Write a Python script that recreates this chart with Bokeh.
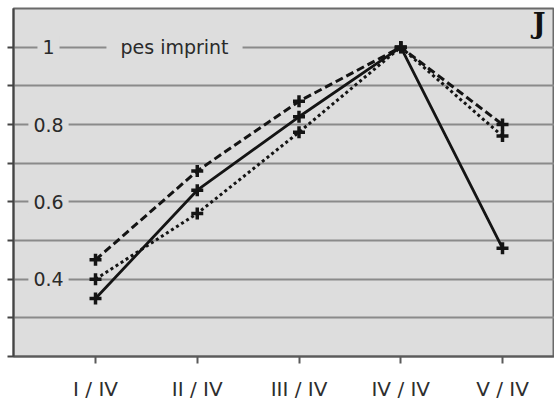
import numpy as np
from bokeh.plotting import figure
from bokeh.models import (Range1d, FixedTicker, Label)
from bokeh.embed import file_html
from bokeh.resources import INLINE

# ---- data ----
categories = ["I / IV", "II / IV", "III / IV", "IV / IV", "V / IV"]
series_dashed = [0.45, 0.68, 0.86, 1.00, 0.80]
series_solid = [0.35, 0.63, 0.82, 1.00, 0.48]
series_dotted = [0.40, 0.57, 0.78, 1.00, 0.77]
y_tick_values = [0.2, 0.3, 0.4, 0.5, 0.6, 0.7, 0.8, 0.9, 1.0]
y_label_values = [0.4, 0.6, 0.8, 1.0]
y_label_texts = ["0.4", "0.6", "0.8", "1"]
annotation_text = "pes imprint"
panel_letter = "J"

xs = list(range(1, len(categories) + 1))

p = figure(width=554, height=403, output_backend="svg", toolbar_location=None,
           x_range=Range1d(0.194, 5.511), y_range=Range1d(0.2, 1.1),
           min_border_left=13, min_border_right=0, min_border_top=8, min_border_bottom=46)

p.background_fill_color = "#dddddd"
p.border_fill_color = "white"
p.outline_line_color = "#6a6a6a"
p.outline_line_width = 2

# x axis
p.xaxis.ticker = FixedTicker(ticks=xs)
p.xaxis.major_label_overrides = {x: c for x, c in zip(xs, categories)}
p.xaxis.major_label_text_font = "DejaVu Sans"
p.xaxis.major_label_text_font_size = "20px"
p.xaxis.major_label_text_color = "#2e2e2e"
p.xaxis.major_label_standoff = 13
p.xaxis.axis_line_color = "#5a5a5a"
p.xaxis.axis_line_width = 2
p.xaxis.major_tick_line_color = "#5a5a5a"
p.xaxis.major_tick_line_width = 2
p.xaxis.major_tick_out = 7
p.xaxis.major_tick_in = 0
p.xaxis.minor_tick_line_color = None
p.xgrid.grid_line_color = None

# y axis (labels drawn inside the frame below)
p.yaxis.ticker = FixedTicker(ticks=y_tick_values)
p.yaxis.major_label_overrides = {v: "" for v in y_tick_values}
p.yaxis.major_label_standoff = 0
p.yaxis.axis_line_color = "#444444"
p.yaxis.axis_line_width = 2
p.yaxis.major_tick_line_color = "#444444"
p.yaxis.major_tick_line_width = 2
p.yaxis.major_tick_out = 6
p.yaxis.major_tick_in = 0
p.yaxis.minor_tick_line_color = None
p.ygrid.ticker = FixedTicker(ticks=y_tick_values)
p.ygrid.grid_line_color = "#8a8a8a"
p.ygrid.grid_line_width = 2

# series
ink = "#141414"
p.line(xs, series_dashed, line_color=ink, line_width=3, line_dash="8 4")
p.line(xs, series_dotted, line_color=ink, line_width=3, line_dash="3 3")
p.line(xs, series_solid, line_color=ink, line_width=2.8)
for s in (series_dashed, series_dotted, series_solid):
    p.scatter(xs, s, marker="cross", size=12, line_color=ink, line_width=3.5)

# y tick labels drawn inside the plot
for yv, txt in zip(y_label_values, y_label_texts):
    p.add_layout(Label(x=35, y=yv, text=txt, x_units="screen",
                       text_align="center", text_baseline="middle",
                       text_font="DejaVu Sans", text_font_size="19px",
                       text_color="#2a2a2a",
                       background_fill_color="#dddddd", padding=5))

p.add_layout(Label(x=161, y=1.0, x_units="screen", text=annotation_text,
                   text_align="center", text_baseline="middle",
                   text_font="DejaVu Sans", text_font_size="19px",
                   text_color="#2a2a2a",
                   background_fill_color="#dddddd", padding=14))

p.add_layout(Label(x=532, y=333, x_units="screen", y_units="screen", text=panel_letter,
                   text_align="right", text_baseline="alphabetic",
                   text_font="DejaVu Serif", text_font_style="bold",
                   text_font_size="27px", text_color="#111111"))

open("out.html", "w").write(file_html(p, INLINE))
